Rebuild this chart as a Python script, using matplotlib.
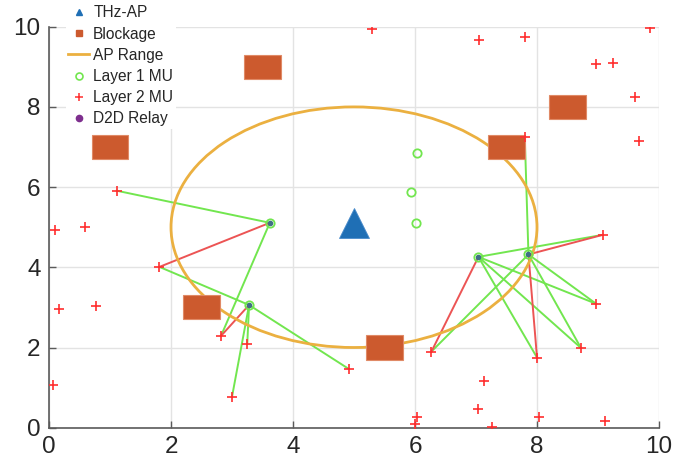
import matplotlib
matplotlib.use('Agg')
import matplotlib.pyplot as plt
from matplotlib.patches import Rectangle, Ellipse
from matplotlib.lines import Line2D

plt.rcParams['font.family'] = ['Liberation Sans', 'DejaVu Sans']

# THz access point and its range
ap_x, ap_y = 5.0, 5.1
range_cx, range_cy, range_r = 5.0, 5.0, 3.0

# blockages (centres), drawn as 0.6 x 0.6 boxes
block_x = [3.5, 8.5, 7.5, 1.0, 2.5, 5.5]
block_y = [9.0, 8.0, 7.0, 7.0, 3.0, 2.0]
block_w, block_h = 0.6, 0.6

# layer 1 mobile users
mu1_x = [6.04, 5.93, 6.01]
mu1_y = [6.85, 5.89, 5.10]

# layer 2 mobile users
mu2_x = [5.30, 7.05, 7.81, 8.97, 9.25, 9.85, 9.60, 9.67, 7.80, 9.08,
         8.97, 8.72, 8.00, 6.27, 7.13, 7.03, 6.03, 6.00, 7.27, 8.03,
         9.11, 2.82, 3.25, 3.00, 4.91, 1.11, 0.10, 0.59, 0.17, 0.77,
         0.06, 1.81]
mu2_y = [9.94, 9.68, 9.74, 9.07, 9.10, 9.98, 8.25, 7.14, 7.24, 4.81,
         3.09, 1.99, 1.75, 1.90, 1.16, 0.46, 0.27, 0.08, 0.02, 0.26,
         0.17, 2.29, 2.09, 0.77, 1.47, 5.91, 4.92, 5.00, 2.97, 3.03,
         1.06, 4.01]

# D2D relays
relay_x = [3.62, 3.28, 7.04, 7.86]
relay_y = [5.11, 3.06, 4.26, 4.32]

# links (relay index, layer 2 MU index)
green_links = [(0, 25), (0, 21), (1, 31), (1, 22), (1, 23), (1, 24),
               (2, 12), (2, 11), (2, 10), (2, 9),
               (3, 13), (3, 8), (3, 11), (3, 10)]
red_links = [(0, 31), (1, 21), (2, 13), (3, 12), (3, 9)]

c_ap = '#1f6fb5'
c_block = '#cc5a2e'
c_range = '#ebb040'
c_green = '#72e64f'
c_red = '#ec5454'
c_plus = '#ff2e2e'
c_relay = '#7e2f8e'

fig = plt.figure(figsize=(6.99, 4.69), dpi=100)
ax = fig.add_axes([49 / 699, (469 - 427.7) / 469, 610 / 699, 401 / 469])

for r, m in green_links:
    ax.plot([relay_x[r], mu2_x[m]], [relay_y[r], mu2_y[m]], color=c_green, lw=1.4, zorder=2)
for r, m in red_links:
    ax.plot([relay_x[r], mu2_x[m]], [relay_y[r], mu2_y[m]], color=c_red, lw=1.4, zorder=2)

ax.add_patch(Ellipse((range_cx, range_cy), 2 * range_r, 2 * range_r, fill=False,
                     edgecolor=c_range, lw=2.0, zorder=3))

for bx, by in zip(block_x, block_y):
    ax.add_patch(Rectangle((bx - block_w / 2, by - block_h / 2), block_w, block_h,
                           facecolor=c_block, edgecolor='#e08a66', lw=0.8, zorder=4))

ax.plot(ap_x, ap_y, marker='^', ms=21, color=c_ap, mec='#4a8ccc', mew=0.6, ls='none', zorder=5)
ax.plot(mu1_x, mu1_y, 'o', ms=6, mfc='none', mec=c_green, mew=1.3, zorder=5)
ax.plot(mu2_x, mu2_y, '+', ms=7.5, color=c_plus, mew=1.2, zorder=5)
ax.plot(relay_x, relay_y, 'o', ms=6, mfc='none', mec=c_green, mew=1.3, zorder=6)
ax.plot(relay_x, relay_y, 'o', ms=4, color='#3f6f86', mew=0, zorder=6)

ax.set_xlim(0, 10)
ax.set_ylim(0, 10)
ax.set_xticks([0, 2, 4, 6, 8, 10])
ax.set_yticks([0, 2, 4, 6, 8, 10])
ax.grid(True, color='#e3e3e3', lw=1.0, zorder=0)
ax.set_axisbelow(True)
for s in ['top', 'right']:
    ax.spines[s].set_visible(False)
for s in ['left', 'bottom']:
    ax.spines[s].set_color('#5a5a5a')
    ax.spines[s].set_linewidth(1.2)
ax.tick_params(direction='in', length=5, width=1.0, color='#5a5a5a',
               labelsize=17.5, labelcolor='#262626', pad=6)

handles = [
    Line2D([], [], marker='^', ms=5, color=c_ap, ls='none'),
    Line2D([], [], marker='s', ms=4, color=c_block, ls='none'),
    Line2D([], [], color=c_range, lw=2.0),
    Line2D([], [], marker='o', ms=5, mfc='none', mec=c_green, mew=1.2, ls='none'),
    Line2D([], [], marker='+', ms=6, color=c_plus, mew=1.1, ls='none'),
    Line2D([], [], marker='o', ms=4.5, color=c_relay, ls='none'),
]
labels = ['THz-AP', 'Blockage', 'AP Range', 'Layer 1 MU', 'Layer 2 MU', 'D2D Relay']
leg = fig.legend(handles, labels, loc='upper left', bbox_to_anchor=(66 / 699, 1 - 3 / 469),
                 frameon=True, fontsize=11.2, handlelength=1.35, handletextpad=0.25,
                 labelspacing=0.4, borderpad=0.15, borderaxespad=0)
leg.get_frame().set_facecolor('white')
leg.get_frame().set_edgecolor('none')
leg.get_frame().set_alpha(1)
leg.set_zorder(10)
for t in leg.get_texts():
    t.set_color('#262626')

fig.savefig('out.png', dpi=100)
